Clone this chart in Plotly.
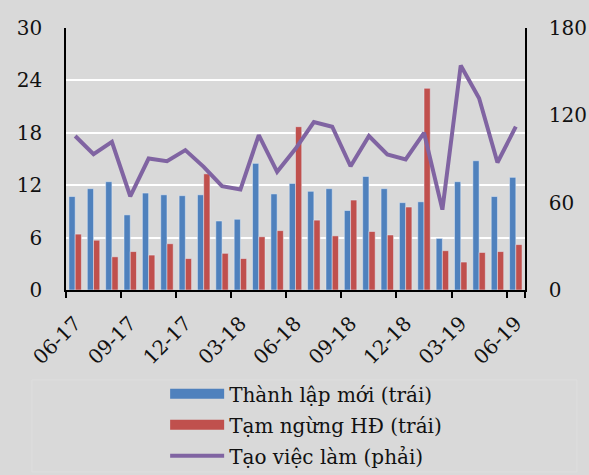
import plotly.graph_objects as go

months = ["06-17", "07-17", "08-17", "09-17", "10-17", "11-17", "12-17", "01-18", "02-18",
          "03-18", "04-18", "05-18", "06-18", "07-18", "08-18", "09-18", "10-18", "11-18",
          "12-18", "01-19", "02-19", "03-19", "04-19", "05-19", "06-19"]
tick_labels = ["06-17", "09-17", "12-17", "03-18", "06-18", "09-18", "12-18", "03-19", "06-19"]

thanh_lap_moi = [10.7, 11.6, 12.4, 8.6, 11.1, 10.9, 10.8, 10.9, 7.9, 8.1, 14.5, 11.0, 12.2,
                 11.3, 11.6, 9.1, 13.0, 11.6, 10.0, 10.1, 5.9, 12.4, 14.8, 10.7, 12.9]
tam_ngung = [6.4, 5.7, 3.8, 4.4, 4.0, 5.3, 3.6, 13.3, 4.2, 3.6, 6.1, 6.8, 18.7,
             8.0, 6.2, 10.3, 6.7, 6.3, 9.5, 23.1, 4.5, 3.2, 4.3, 4.4, 5.2]
tao_viec_lam = [105.8, 93.3, 101.8, 64.4, 90.3, 88.5, 96.1, 84.6, 71.3, 69.0, 106.4, 81.2, 97.0,
                115.4, 112.2, 85.0, 105.8, 93.1, 89.7, 108.0, 55.2, 154.3, 131.7, 87.6, 112.2]

names = ["Thành lập mới (trái)", "Tạm ngừng HĐ (trái)", "Tạo việc làm (phải)"]
BLUE, RED, PURPLE = "#4F81BD", "#C0504D", "#8064A2"
BG = "#D9D9D9"
FONT = dict(family="DejaVu Serif", size=20, color="#111111")

fig = go.Figure()
fig.add_trace(go.Bar(x=months, y=thanh_lap_moi, name=names[0], marker_color=BLUE,
                     legendgroup="a", showlegend=False))
fig.add_trace(go.Bar(x=months, y=tam_ngung, name=names[1], marker_color=RED,
                     legendgroup="b", showlegend=False))
fig.add_trace(go.Scatter(x=months, y=tao_viec_lam, name=names[2], mode="lines",
                         line=dict(color=PURPLE, width=4), yaxis="y2",
                         legendgroup="c", showlegend=False))
# legend entries (wide swatches like the original)
for nm, col, w, g in [(names[0], BLUE, 12, "a"), (names[1], RED, 12, "b"), (names[2], PURPLE, 4, "c")]:
    fig.add_trace(go.Scatter(x=[None], y=[None], name=nm, mode="lines",
                             line=dict(color=col, width=w), legendgroup=g, showlegend=True))

fig.update_layout(
    width=589, height=475,
    margin=dict(l=66, r=64, t=28, b=185, autoexpand=False),
    paper_bgcolor=BG, plot_bgcolor=BG,
    font=FONT,
    barmode="group", bargap=0.32, bargroupgap=0,
    xaxis=dict(type="category", categoryorder="array", categoryarray=months,
               tickmode="array", tickvals=tick_labels, ticktext=tick_labels,
               tickson="boundaries", ticks="outside", ticklen=6, tickcolor="black", tickwidth=1.5,
               tickangle=-45, showline=True, linecolor="black", linewidth=1.5,
               showgrid=False, range=[-0.5, 24.5], ticklabelstandoff=12, automargin=False),
    yaxis=dict(range=[0, 30], dtick=6, showgrid=True, gridcolor="white", gridwidth=2,
               showline=True, linecolor="black", linewidth=1.5, zeroline=False,
               ticks="", ticklabelstandoff=18, automargin=False),
    yaxis2=dict(range=[0, 180], dtick=60, overlaying="y", side="right", showgrid=False,
                showline=True, linecolor="black", linewidth=1.5, zeroline=False,
                ticks="", ticklabelstandoff=18, automargin=False),
    legend=dict(orientation="v", x=0.216, xanchor="left", y=-0.322, yanchor="top",
                bgcolor="rgba(0,0,0,0)", itemwidth=54, font=FONT, tracegroupgap=2),
    shapes=[dict(type="rect", xref="paper", yref="paper",
                 x0=(32 - 66) / 459, x1=(577 - 66) / 459,
                 y0=(290 - 472) / 262, y1=(290 - 380) / 262,
                 line=dict(color="#DEDEDE", width=1), fillcolor="rgba(0,0,0,0)", layer="below")],
)

fig.write_html("out.html", config={"displayModeBar": False},
               post_script="document.body.style.margin='0';")
